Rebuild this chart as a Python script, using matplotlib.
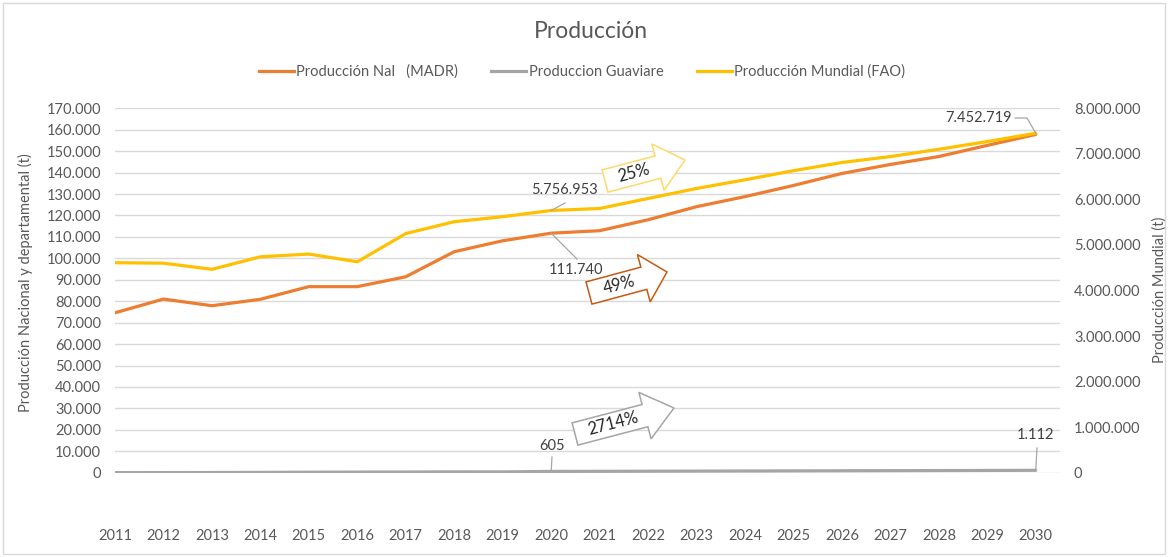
import matplotlib
matplotlib.use("Agg")
import matplotlib.pyplot as plt
from matplotlib.ticker import FuncFormatter, MultipleLocator
from matplotlib.lines import Line2D
from matplotlib.patches import Polygon, Rectangle
from matplotlib.transforms import Affine2D
import numpy as np

# ---- data ----
years = list(range(2011, 2031))
prod_nal = [74600, 81000, 77900, 80900, 86800, 86800, 91400, 103100, 108200, 111740,
            112900, 118000, 124100, 128800, 134000, 139600, 143800, 147500, 152700, 157800]
prod_guaviare = [40, 55, 90, 150, 240, 290, 320, 400, 360, 605,
                 640, 690, 740, 790, 840, 890, 940, 1000, 1050, 1112]
prod_mundial = [4610000, 4600000, 4465000, 4740000, 4800000, 4630000, 5250000, 5510000, 5620000, 5756953,
                5800000, 6020000, 6240000, 6430000, 6630000, 6810000, 6940000, 7100000, 7270000, 7452719]
growth_labels = ["25%", "49%", "2714%"]

W, H = 1168, 557
DPI = 100
FONT = "Lato"
FS = 10.5
TXT = "#595959"
LBL = "#404040"
GRID = "#D9D9D9"
C_NAL = "#ED7D31"
C_GUA = "#A5A5A5"
C_MUN = "#FFC000"

plt.rcParams["font.family"] = [FONT, "DejaVu Sans"]

fig = plt.figure(figsize=(W / DPI, H / DPI), dpi=DPI)
fig.patch.set_facecolor("white")

# pixel-space transform (origin top-left)
px = Affine2D().scale(1.0 / W, -1.0 / H).translate(0, 1) + fig.transFigure
PT = 72.0 / DPI  # points per pixel

left, right, top, bottom = 115, 1060, 108.3, 472.7
ax = fig.add_axes([left / W, 1 - bottom / H, (right - left) / W, (bottom - top) / H])
ax2 = ax.twinx()

def thousands(v, pos=None):
    return f"{int(round(v)):,}".replace(",", ".")

# left axis
ax.set_xlim(2011, 2030.5)
ax.set_ylim(0, 170000)
ax.yaxis.set_major_locator(MultipleLocator(10000))
ax.yaxis.set_major_formatter(FuncFormatter(thousands))
ax.grid(axis="y", color=GRID, lw=1.0)
ax.set_axisbelow(True)
ax.set_xticks(years)
ax.set_xticklabels([str(y) for y in years])
ax.tick_params(axis="x", length=0, pad=56 * PT, labelsize=FS, colors=TXT)
ax.tick_params(axis="y", length=0, pad=14 * PT, labelsize=FS, colors=TXT)
for s in ax.spines.values():
    s.set_visible(False)

# right axis
ax2.set_ylim(0, 8000000)
ax2.yaxis.set_major_locator(MultipleLocator(1000000))
ax2.yaxis.set_major_formatter(FuncFormatter(thousands))
ax2.tick_params(axis="y", length=0, pad=14 * PT, labelsize=FS, colors=TXT)
for s in ax2.spines.values():
    s.set_visible(False)

ax.plot(years, prod_guaviare, color=C_GUA, lw=2.3, solid_capstyle="round", zorder=3)
ax.plot(years, prod_nal, color=C_NAL, lw=2.3, solid_capstyle="round", zorder=3)
ax2.plot(years, prod_mundial, color=C_MUN, lw=2.3, solid_capstyle="round", zorder=4)

# axis titles
fig.text(25 / W, 1 - 283 / H, "Producción Nacional y departamental (t)", rotation=90,
         ha="center", va="center", fontsize=FS, color=TXT)
fig.text(1160 / W, 1 - 290 / H, "Producción Mundial (t)", rotation=90,
         ha="center", va="center", fontsize=FS, color=TXT)

# chart title
fig.text(591 / W, 1 - 32 / H, "Producción", ha="center", va="center", fontsize=16.5, color=TXT)

# legend
handles = [Line2D([], [], color=C_NAL, lw=2.3),
           Line2D([], [], color=C_GUA, lw=2.3),
           Line2D([], [], color=C_MUN, lw=2.3)]
names = ["Producción Nal   (MADR)", "Produccion Guaviare", "Producción Mundial (FAO)"]
fig.legend(handles, names, loc="center", bbox_to_anchor=(582 / W, 1 - 72 / H), ncol=3,
           frameon=False, fontsize=FS, labelcolor=TXT, handlelength=2.4,
           handletextpad=0.15, columnspacing=2.3)

# data labels with leader lines (pixel coordinates derived from data through the axes)
def to_px(axis, x, y):
    dx, dy = axis.transData.transform((x, y))
    return dx / fig.dpi * DPI, H - dy / fig.dpi * DPI

fig.canvas.draw()

def label(axis, xv, yv, text, tx, ty, path, ha="center"):
    x0, y0 = to_px(axis, xv, yv)
    pts = [(x0, y0)] + path
    xs, ys = zip(*pts)
    fig.add_artist(Line2D(xs, ys, transform=px, color="#A6A6A6", lw=0.9))
    fig.text(tx / W, 1 - ty / H, text, ha=ha, va="center", fontsize=FS, color=LBL)

label(ax2, 2020, prod_mundial[9], thousands(prod_mundial[9]), 564, 190, [(565, 203)])
label(ax, 2020, prod_nal[9], thousands(prod_nal[9]), 576, 270, [(577, 259)])
label(ax, 2020, prod_guaviare[9], thousands(prod_guaviare[9]), 552, 446, [(552, 457)])
label(ax, 2030, prod_guaviare[19], thousands(prod_guaviare[19]), 1036, 435, [(1037, 448)])
label(ax2, 2030, prod_mundial[19], thousands(prod_mundial[19]), 1012, 118,
      [(1027, 118), (1015, 118)], ha="right")

# block arrows with growth percentages
def block_arrow(tail, tip, body, head_w, head_l, edge, text):
    tx, ty = tail
    vx, vy = tip[0] - tx, tip[1] - ty
    L = np.hypot(vx, vy)
    ux, uy = vx / L, vy / L
    nx, ny = -uy, ux
    b = L - head_l
    local = [(0, -body / 2), (b, -body / 2), (b, -head_w / 2), (L, 0),
             (b, head_w / 2), (b, body / 2), (0, body / 2)]
    pts = [(tx + a * ux + c * nx, ty + a * uy + c * ny) for a, c in local]
    fig.add_artist(Polygon(pts, closed=True, transform=px, facecolor="white",
                           edgecolor=edge, lw=1.1, zorder=5))
    cx, cy = tx + b * 0.55 * ux, ty + b * 0.55 * uy
    ang = np.degrees(np.arctan2(-vy, vx))
    fig.text(cx / W, 1 - cy / H, text, ha="center", va="center", rotation=ang,
             rotation_mode="anchor", fontsize=12, color="#262626", zorder=6)

block_arrow((605, 181), (685, 160), 23, 48, 28, "#FFD966", growth_labels[0])
block_arrow((589, 293), (667, 272), 23, 49, 24, "#C55A11", growth_labels[1])
block_arrow((575, 434), (674, 408), 23, 48, 30, "#A5A5A5", growth_labels[2])

# chart area border
fig.add_artist(Rectangle((3, 3), W - 6, H - 6, transform=px, fill=False,
                         edgecolor=GRID, lw=1.0))

fig.savefig("out.png", dpi=DPI, facecolor="white")
